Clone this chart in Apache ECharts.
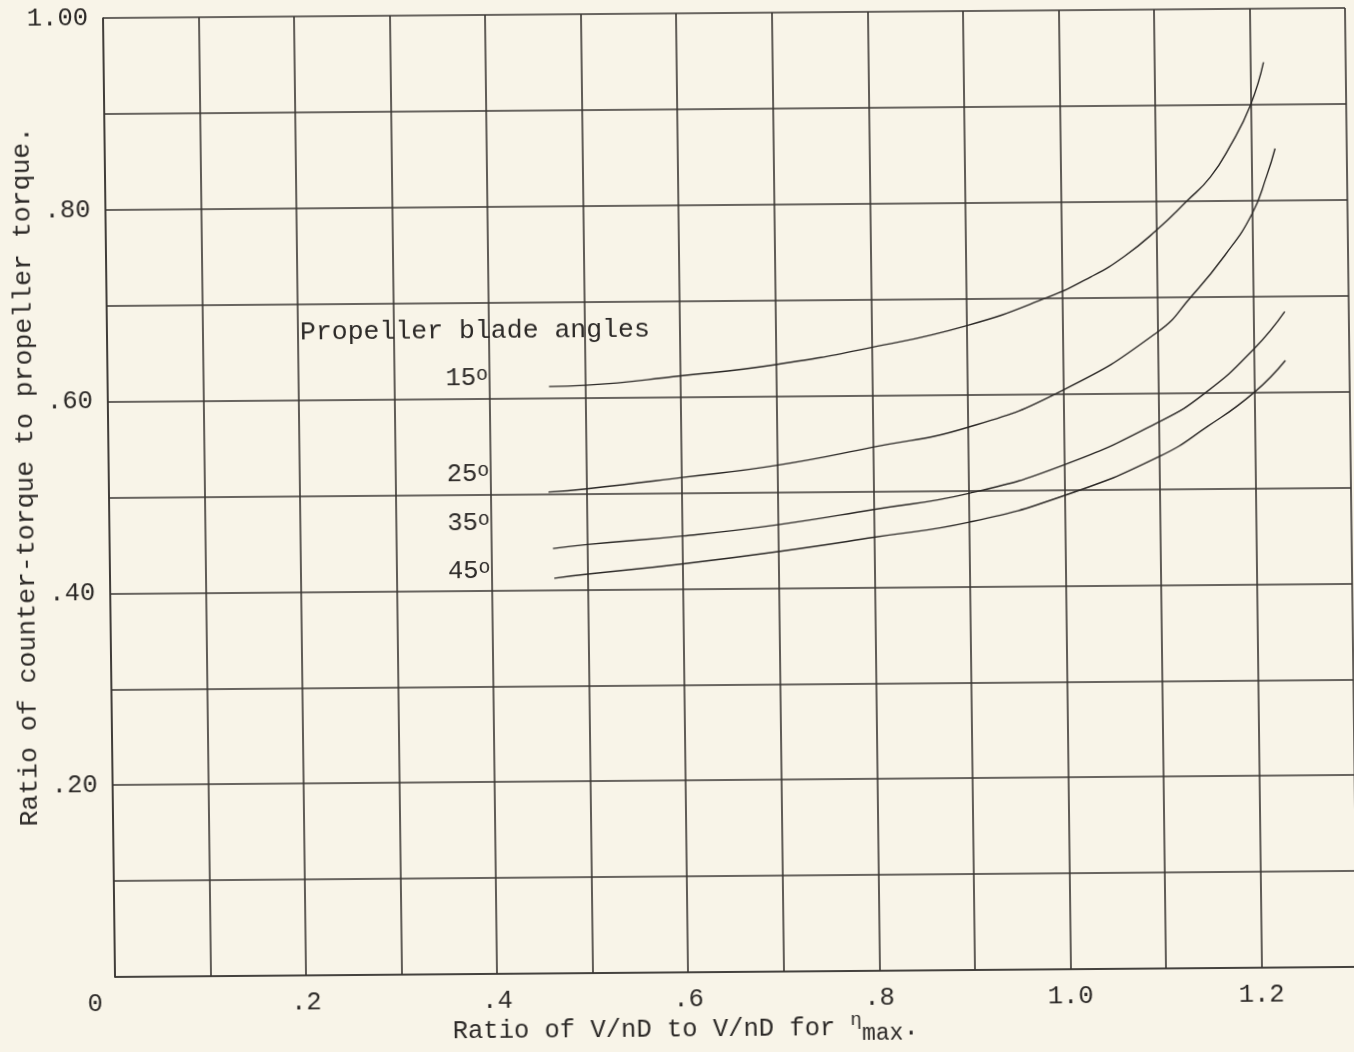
<!DOCTYPE html>
<html>
<head>
<meta charset="utf-8">
<script src="https://cdn.jsdelivr.net/npm/echarts@6/dist/echarts.min.js"></script>
<style>
  html, body { margin: 0; padding: 0; background: #f8f4e8; overflow: hidden; }
  #chart {
    position: absolute; left: 0; top: 0; width: 1354px; height: 1052px;
    transform-origin: 730px 491px;
    transform: matrix(1, -0.0081, 0.0125, 1, 0, 0);
  }
</style>
</head>
<body>
<div id="chart"></div>
<script>
// ---- data ----
const xTickLabels = ['0', '', '.2', '', '.4', '', '.6', '', '.8', '', '1.0', '', '1.2', ''];
const yTickLabels = ['', '', '.20', '', '.40', '', '.60', '', '.80', '', '1.00'];

const seriesNames = ['15\u00b0', '25\u00b0', '35\u00b0', '45\u00b0'];

const angle15X = [0.462, 0.500, 0.600, 0.700, 0.800, 0.900, 0.983, 1.031, 1.066, 1.100, 1.132, 1.157, 1.178, 1.200, 1.214];
const angle15Y = [0.612, 0.613, 0.622, 0.633, 0.650, 0.672, 0.700, 0.722, 0.743, 0.770, 0.800, 0.825, 0.857, 0.900, 0.944];

const angle25X = [0.460, 0.500, 0.600, 0.700, 0.800, 0.900, 1.000, 1.100, 1.135, 1.171, 1.200, 1.216, 1.225];
const angle25Y = [0.502, 0.505, 0.516, 0.528, 0.546, 0.566, 0.604, 0.664, 0.700, 0.743, 0.786, 0.826, 0.854];

const angle35X = [0.464, 0.500, 0.600, 0.700, 0.800, 0.900, 1.000, 1.100, 1.149, 1.200, 1.233];
const angle35Y = [0.443, 0.447, 0.455, 0.466, 0.481, 0.497, 0.526, 0.570, 0.600, 0.645, 0.684];

const angle45X = [0.465, 0.500, 0.600, 0.700, 0.800, 0.900, 1.000, 1.100, 1.151, 1.200, 1.233];
const angle45Y = [0.412, 0.416, 0.426, 0.438, 0.452, 0.467, 0.494, 0.534, 0.565, 0.600, 0.633];

// ---- styling ----
const FONT = '"Liberation Mono", "DejaVu Sans Mono", monospace';
const TEXT = '#2c2927';
const GRID = '#3a3633';
const CURVE = '#2a2725';

const pairs = (xs, ys) => xs.map((v, i) => [v, ys[i]]);
const allX = [angle15X, angle25X, angle35X, angle45X];
const allY = [angle15Y, angle25Y, angle35Y, angle45Y];

const gridLine = { color: GRID, width: 1.6 };

const chart = echarts.init(document.getElementById('chart'), null, { renderer: 'canvas' });

const option = {
  backgroundColor: 'transparent',
  animation: false,
  grid: { left: 109, top: 10, right: 2, bottom: 80, containLabel: false },
  xAxis: {
    type: 'value', min: 0, max: 1.3, interval: 0.1,
    axisLine: { show: true, onZero: false, lineStyle: gridLine },
    axisTick: { show: false },
    splitLine: { show: true, lineStyle: gridLine },
    axisLabel: {
      margin: 14, fontFamily: FONT, fontSize: 25.5, color: TEXT,
      formatter: v => {
        const s = xTickLabels[Math.round(v * 10)] || '';
        return s === '0' ? '{z|0}' : s;
      },
      rich: { z: { fontFamily: FONT, fontSize: 25.5, color: TEXT, padding: [0, 40, 0, 0] } }
    }
  },
  yAxis: {
    type: 'value', min: 0, max: 1.0, interval: 0.1,
    axisLine: { show: true, onZero: false, lineStyle: gridLine },
    axisTick: { show: false },
    splitLine: { show: true, lineStyle: gridLine },
    axisLabel: {
      margin: 15, fontFamily: FONT, fontSize: 25.5, color: TEXT,
      padding: [8, 0, 0, 0],
      formatter: v => yTickLabels[Math.round(v * 10)] || ''
    }
  },
  series: seriesNames.map((name, i) => ({
    name, type: 'line', data: pairs(allX[i], allY[i]),
    smooth: 0.5, showSymbol: false, symbol: 'none',
    lineStyle: { color: CURVE, width: 1.4 }, z: 3
  })),
  graphic: [
    {
      type: 'text', left: 302, top: 315, z: 10,
      style: { text: 'Propeller blade angles', font: '26.5px ' + FONT, fill: TEXT }
    },
    ...[
      { t: '15', y: 376 }, { t: '25', y: 472 }, { t: '35', y: 521 }, { t: '45', y: 569 }
    ].map(o => ({
      type: 'text', x: 447, y: o.y, z: 10,
      style: {
        text: '{n|' + o.t + '}{d|o}', fill: TEXT, verticalAlign: 'middle', align: 'left',
        rich: {
          n: { fontFamily: FONT, fontSize: 25.5, fill: TEXT },
          d: { fontFamily: FONT, fontSize: 20, fill: TEXT, verticalAlign: 'top' }
        }
      }
    })),
    {
      type: 'text', x: 446, y: 1029, z: 10,
      style: {
        text: '{t|Ratio of V/nD to V/nD for }{e|\u03b7}{s|max}{t|.}',
        fill: TEXT, verticalAlign: 'middle', align: 'left',
        rich: {
          t: { fontFamily: FONT, fontSize: 25.5, fill: TEXT },
          e: { fontFamily: FONT, fontSize: 19, fill: TEXT, verticalAlign: 'top' },
          s: { fontFamily: FONT, fontSize: 23, fill: TEXT, padding: [12, 0, 0, 0] }
        }
      }
    },
    {
      type: 'text', x: 26, y: 471, rotation: Math.PI / 2, z: 10,
      style: {
        text: 'Ratio of counter-torque to propeller torque.',
        font: '26.5px ' + FONT, fill: TEXT, align: 'center', verticalAlign: 'middle'
      }
    }
  ]
};

chart.setOption(option);
</script>
</body>
</html>
